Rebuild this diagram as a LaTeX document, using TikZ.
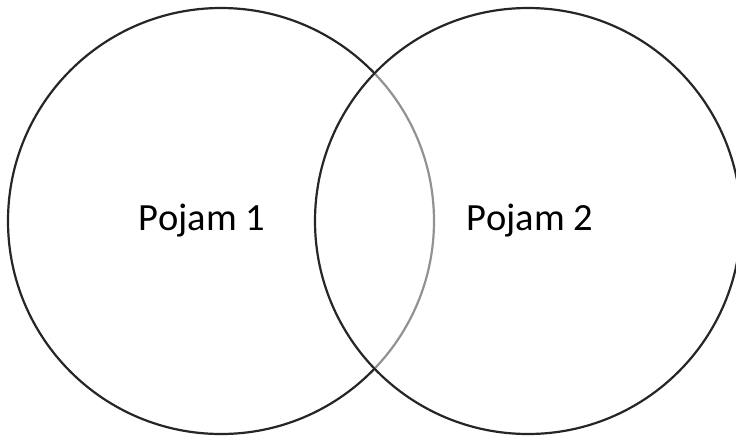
\documentclass[tikz,border=0pt]{standalone}
\usepackage{fontspec}
\setmainfont{Carlito}
\definecolor{ring}{HTML}{262626}
\begin{document}
\begin{tikzpicture}[x=1pt,y=-1pt,
  ring/.style={draw=ring,line width=2.2pt},
  lbl/.style={font=\fontsize{38.5}{42}\selectfont,text=black}]
\useasboundingbox (0,0) rectangle (736,437);
\fill[white] (0,0) rectangle (736,437);
\node[ring,circle,minimum size=426pt,inner sep=0pt] (c1) at (221,221) {};
\node[ring,circle,minimum size=426pt,inner sep=0pt,fill=white,fill opacity=0.5] (c2) at (528,221) {};
\node[lbl] (t1) at (c1.center) [xshift=-19pt] {Pojam 1};
\node[lbl] (t2) at (c2.center) [xshift=2pt] {Pojam 2};
\end{tikzpicture}
\end{document}
